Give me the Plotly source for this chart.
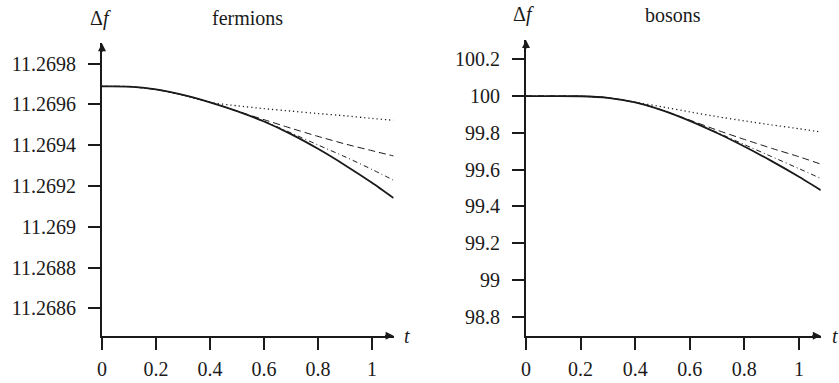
import plotly.graph_objects as go

# ---------------- data ----------------
t = [0, 0.1, 0.2, 0.3, 0.4, 0.5, 0.6, 0.7, 0.8, 0.9, 1.0, 1.08]

ferm_solid = [11.269688, 11.269687, 11.269673, 11.269646, 11.269610, 11.269567,
              11.269516, 11.269454, 11.269382, 11.269302, 11.269216, 11.269141]
ferm_dot = [11.269688, 11.269687, 11.269673, 11.269646, 11.269610, 11.269593,
            11.269579, 11.269567, 11.269555, 11.269544, 11.269531, 11.269522]
ferm_dash = [11.269688, 11.269687, 11.269673, 11.269646, 11.269610, 11.269567,
             11.269525, 11.269483, 11.269443, 11.269406, 11.269373, 11.269347]
ferm_dashdot = [11.269688, 11.269687, 11.269673, 11.269646, 11.269610, 11.269567,
                11.269518, 11.269460, 11.269401, 11.269343, 11.269281, 11.269228]

bos_solid = [100.000, 100.000, 99.999, 99.9907, 99.9662, 99.9227,
             99.8655, 99.7991, 99.7256, 99.6461, 99.5612, 99.4883]
bos_dot = [100.000, 100.000, 99.999, 99.9907, 99.9662, 99.9412,
           99.9140, 99.8884, 99.8650, 99.8432, 99.8225, 99.8051]
bos_dash = [100.000, 100.000, 99.999, 99.9907, 99.9662, 99.9227,
            99.8694, 99.8149, 99.7643, 99.7158, 99.6701, 99.6298]
bos_dashdot = [100.000, 100.000, 99.999, 99.9907, 99.9662, 99.9227,
               99.8666, 99.8024, 99.7360, 99.6707, 99.6053, 99.5520]

x_ticks = [0, 0.2, 0.4, 0.6, 0.8, 1]
x_ticktext = ["0", "0.2", "0.4", "0.6", "0.8", "1"]
ferm_ticks = [11.2686, 11.2688, 11.269, 11.2692, 11.2694, 11.2696, 11.2698]
ferm_ticktext = ["11.2686", "11.2688", "11.269", "11.2692", "11.2694", "11.2696", "11.2698"]
bos_ticks = [98.8, 99.0, 99.2, 99.4, 99.6, 99.8, 100.0, 100.2]
bos_ticktext = ["98.8", "99", "99.2", "99.4", "99.6", "99.8", "100", "100.2"]

x_range = [0, 1.08]
ferm_range = [11.268466, 11.2698993]
bos_range = [98.6967, 100.305]

W, H = 839, 383
FONT = "Liberation Serif"
FS = 20
INK = "#1a1a1a"

styles = {
    "solid": (1.8, "solid"),
    "dot": (1.3, "1.2px,3px"),
    "dash": (1.0, "7px,4px"),
    "dashdot": (1.0, "5px,3px,1px,3px"),
}

fig = go.Figure()

panels = [
    ("x", "y", [("dot", ferm_dot), ("dash", ferm_dash), ("dashdot", ferm_dashdot), ("solid", ferm_solid)]),
    ("x2", "y2", [("dot", bos_dot), ("dash", bos_dash), ("dashdot", bos_dashdot), ("solid", bos_solid)]),
]
for xa, ya, series in panels:
    for name, vals in series:
        w, dash = styles[name]
        fig.add_trace(go.Scatter(
            x=t, y=vals, xaxis=xa, yaxis=ya, mode="lines",
            line=dict(color=INK, width=w, dash=dash, shape="spline", smoothing=0.6),
            showlegend=False, hoverinfo="skip"))

def px(x):
    return x / W

def py(y):
    return 1 - y / H

axis_common = dict(showgrid=False, zeroline=False, showline=True, linecolor=INK,
                   linewidth=1.8, ticks="outside", ticklen=12, tickwidth=1.8,
                   tickcolor=INK, tickfont=dict(family=FONT, size=FS, color=INK),
                   fixedrange=True, automargin=False)

fig.update_layout(
    width=W, height=H, margin=dict(l=0, r=0, t=0, b=0, pad=0),
    paper_bgcolor="white", plot_bgcolor="white",
    font=dict(family=FONT, size=FS, color=INK),
    xaxis=dict(domain=[px(102), px(393.6)], range=x_range, anchor="y",
               tickvals=x_ticks, ticktext=x_ticktext, ticklabelstandoff=2,
               **axis_common),
    yaxis=dict(domain=[py(335.7), py(43.3)], range=ferm_range, anchor="x",
               tickvals=ferm_ticks, ticktext=ferm_ticktext, ticklabelstandoff=8,
               **axis_common),
    xaxis2=dict(domain=[px(526), px(820.8)], range=x_range, anchor="y2",
                tickvals=x_ticks, ticktext=x_ticktext, ticklabelstandoff=2,
                **axis_common),
    yaxis2=dict(domain=[py(335.7), py(40)], range=bos_range, anchor="x2",
                tickvals=bos_ticks, ticktext=bos_ticktext, ticklabelstandoff=8,
                **axis_common),
)

# axis arrowheads
for xa, ya, yr in [("x", "y", ferm_range), ("x2", "y2", bos_range)]:
    fig.add_annotation(x=x_range[1], y=yr[0], xref=xa, yref=ya, ax=-10, ay=0,
                       showarrow=True, arrowhead=2, arrowsize=1, arrowwidth=1.6,
                       arrowcolor=INK, text="")
    fig.add_annotation(x=0, y=yr[1], xref=xa, yref=ya, ax=0, ay=10,
                       showarrow=True, arrowhead=2, arrowsize=1, arrowwidth=1.6,
                       arrowcolor=INK, text="")

labels = [
    ("Δ<i>f</i>", 100, 18),
    ("fermions", 247, 18),
    ("<i>t</i>", 407, 336),
    ("Δ<i>f</i>", 523, 15),
    ("bosons", 673, 15),
    ("<i>t</i>", 835, 336),
]
for txt, x, y in labels:
    fig.add_annotation(x=px(x), y=py(y), xref="paper", yref="paper", text=txt,
                       showarrow=False, xanchor="center", yanchor="middle",
                       font=dict(family=FONT, size=FS, color=INK))

fig.write_html("out.html")
